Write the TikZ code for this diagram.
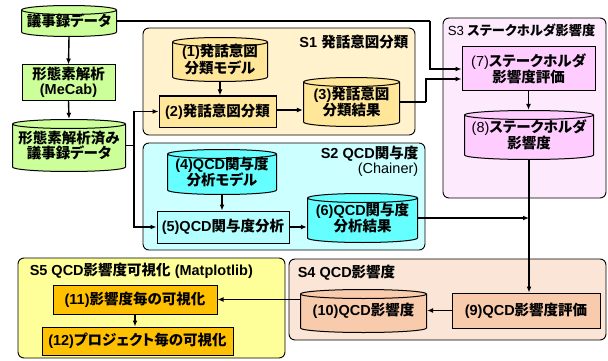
\documentclass[tikz,border=0pt]{standalone}
\usepackage{fontspec}
\setmainfont{Liberation Sans}
\newfontfamily\jp{Noto Sans CJK JP}[RawFeature=+palt]
\newcommand\J[1]{{\jp #1}}
\usetikzlibrary{arrows.meta,calc}
\definecolor{grnF}{HTML}{CCFF99}
\definecolor{sOneBg}{HTML}{FFF2CC}
\definecolor{sOneF}{HTML}{FFE699}
\definecolor{sTwoBg}{HTML}{CCFFFF}
\definecolor{sTwoF}{HTML}{66FFFF}
\definecolor{sTwoL}{HTML}{B3FFFF}
\definecolor{sThrBg}{HTML}{FDEAFD}
\definecolor{sThrF}{HTML}{FFCCFF}
\definecolor{sFouBg}{HTML}{FBE5D6}
\definecolor{sFouF}{HTML}{F8CBAD}
\definecolor{sFivBg}{HTML}{FFFF99}
\definecolor{sFivF}{HTML}{FFC000}
\tikzset{
  every node/.style={font=\bfseries\fontsize{14.5}{15.5}\selectfont, align=center, inner sep=0pt},
  box/.style={draw, line width=1pt, fill=#1},
  cyl/.style={path picture={
    \filldraw[fill=#1, line width=1pt] let \p1=(path picture bounding box.north west), \p2=(path picture bounding box.south east), \n1={(\x2-\x1)/2-0.5pt}, \n2={4.5pt} in
      (\x1+0.5pt,\y1-0.5pt-\n2) -- (\x1+0.5pt,\y2+0.5pt+\n2) arc[start angle=180,end angle=360,x radius=\n1,y radius=\n2]
      -- (\x2-0.5pt,\y1-0.5pt-\n2) arc[start angle=0,end angle=180,x radius=\n1,y radius=\n2] -- cycle;
    \draw[line width=1pt] let \p1=(path picture bounding box.north west), \p2=(path picture bounding box.south east), \n1={(\x2-\x1)/2-0.5pt}, \n2={4.5pt} in
      (\x1+0.5pt,\y1-0.5pt-\n2) arc[start angle=180,end angle=360,x radius=\n1,y radius=\n2];
  }},
  sect/.style={draw, rounded corners=6pt, line width=0.9pt, fill=#1},
  conn/.style={line width=1.4pt},
  arr/.style={line width=1.4pt, -{Latex[length=6pt,width=5pt]}},
}
\begin{document}
\begin{tikzpicture}[x=1pt, y=-1pt]
\useasboundingbox (0,0) rectangle (608,361);
% section boxes
\node[sect=sOneBg, minimum width=272, minimum height=107] (S1) at (279,81.5) {};
\node[sect=sTwoBg, minimum width=282, minimum height=107] (S2) at (284,196.5) {};
\node[sect=sThrBg, minimum width=163, minimum height=180] (S3) at (524.5,108) {};
\node[sect=sFouBg, minimum width=317, minimum height=81] (S4) at (447.5,299.5) {};
\node[sect=sFivBg, minimum width=267, minimum height=100] (S5) at (151.5,308) {};
\node[anchor=north east] (S1t) at ([xshift=-7pt,yshift=-7pt]S1.north east) {S1 \J{発話意図分類}};
\node[anchor=north east, align=right] (S2t) at ([xshift=-7pt,yshift=-3pt]S2.north east) {S2 QCD\J{関与度}\\\mdseries (Chainer)};
\node[anchor=north west, font=\bfseries\fontsize{13.2}{15}\selectfont] (S3t) at ([xshift=5pt,yshift=-6pt]S3.north west) {\mdseries S3 \bfseries\J{ステークホルダ影響度}};
\node[anchor=north west] (S4t) at ([xshift=9pt,yshift=-6pt]S4.north west) {S4 QCD\J{影響度}};
\node[anchor=north west] (S5t) at ([xshift=12pt,yshift=-5pt]S5.north west) {S5 QCD\J{影響度可視化} (Matplotlib)};
% left column
\node[cyl=grnF, minimum width=96, minimum height=32] (d0) at (69,21) {\J{議事録データ}};
\node[box=grnF, minimum width=93, minimum height=35] (mec) at (68.5,82.5) {\J{形態素解析}\\(MeCab)};
\node[cyl=grnF, minimum width=114, minimum height=53] (d1) at (69,145.5) {\J{形態素解析済み}\\\J{議事録データ}};
% S1
\node[cyl=sOneF, minimum width=96, minimum height=45] (n1) at (220,59.5) {(1)\J{発話意図}\\\J{分類モデル}};
\node[box=sOneF, minimum width=117, minimum height=31] (n2) at (217.5,111.5) {(2)\J{発話意図分類}};
\node[cyl=sOneF, minimum width=97, minimum height=50] (n3) at (351.5,102) {(3)\J{発話意図}\\\J{分類結果}};
% S2
\node[cyl=sTwoF, minimum width=110, minimum height=46] (n4) at (222,172) {(4)QCD\J{関与度}\\\J{分析モデル}};
\node[box=sTwoL, minimum width=132, minimum height=32] (n5) at (223,227) {(5)QCD\J{関与度分析}};
\node[cyl=sTwoF, minimum width=111, minimum height=50] (n6) at (362.5,218) {(6)QCD\J{関与度}\\\J{分析結果}};
% S3
\node[box=sThrF, minimum width=133, minimum height=44] (n7) at (528.5,69) {\mdseries(7)\bfseries\J{ステークホルダ}\\\J{影響度評価}};
\node[cyl=sThrF, minimum width=130, minimum height=50] (n8) at (529,135) {\mdseries(8)\bfseries\J{ステークホルダ}\\\J{影響度}};
% S4
\node[box=sFouF, minimum width=148, minimum height=35] (n9) at (526,310.5) {(9)QCD\J{影響度評価}};
\node[cyl=sFouF, minimum width=127, minimum height=44] (n10) at (363.5,311) {(10)QCD\J{影響度}};
% S5
\node[box=sFivF, minimum width=164, minimum height=29] (n11) at (135,299.5) {(11)\J{影響度毎の可視化}};
\node[box=sFivF, minimum width=191, minimum height=28] (n12) at (137.5,341) {(12)\J{プロジェクト毎の可視化}};
% connectors
\coordinate (k1) at (430,21);
\coordinate (k2) at (426,102);
\coordinate (k3) at (134,145.5);
\draw[arr] (d0.south) -- (mec.north);
\draw[arr] (mec.south) -- (d1.north);
\draw[conn] (d0.east) -- (k1);
\draw[arr] (k1) |- (n7.west);
\draw[conn] (n3.east) -- (k2);
\draw[arr] (k2) |- ([yshift=-10pt]n7.west);
\draw[conn] (d1.east) -- (k3);
\draw[arr] (k3) |- (n2.west);
\draw[arr] (k3) |- (n5.west);
\draw[arr] (n1.south) -- (n1.south |- n2.north);
\draw[arr] (n2.east |- 0,110) -- (n3.west |- 0,110);
\draw[arr] (n4.south) -- (n4.south |- n5.north);
\draw[arr] (n5.east) -- (n5.east -| n6.west);
\draw[arr] (n6.east) -- (n6.east -| n8.south);
\draw[arr] (n7.south) -- (n7.south |- n8.north);
\draw[arr] (n8.south) -- (n8.south |- n9.north);
\draw[arr] (n9.west) -- (n9.west -| n10.east);
\draw[arr] (n10.west |- n11.east) -- (n11.east);
\draw[arr] (n11.south) -- (n11.south |- n12.north);
\end{tikzpicture}
\end{document}
